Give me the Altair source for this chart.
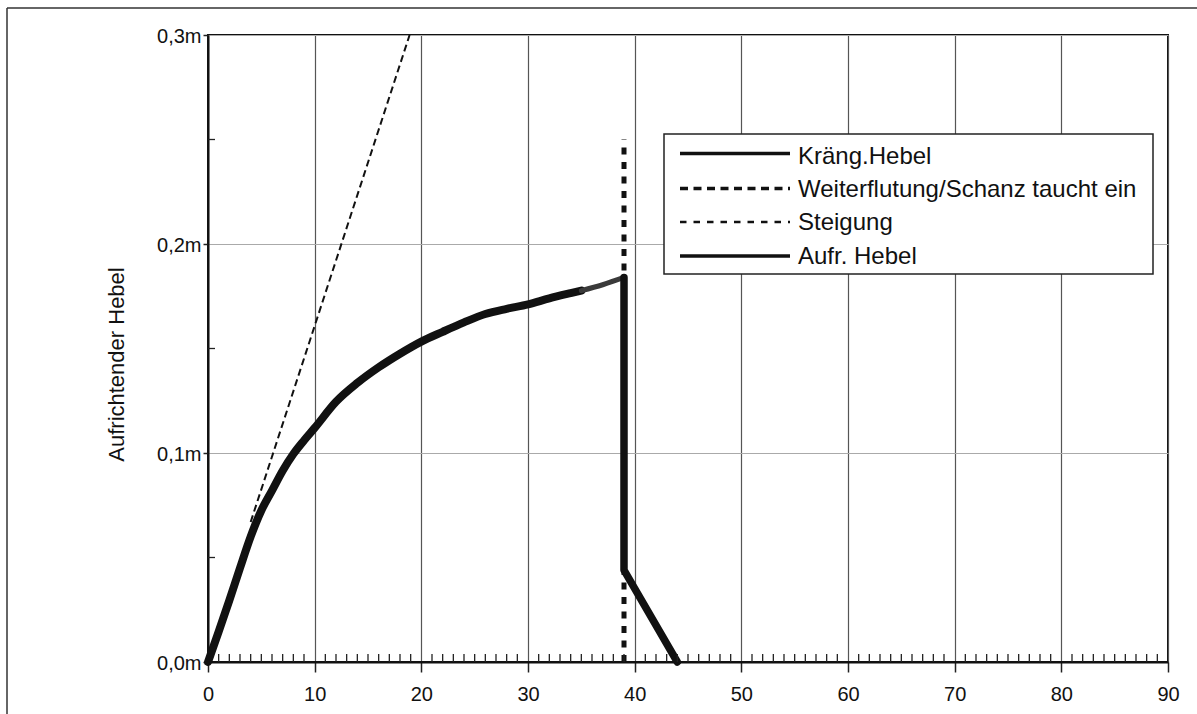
import altair as alt
import pandas as pd

# Righting lever curve: heel angle (deg) vs. lever (m)
angle = [0, 1, 2, 3, 4, 5, 6, 7, 8, 9, 10, 12, 14, 16, 18, 20, 22, 24, 26, 28,
         30, 32, 34, 35, 37, 39, 39, 44]
lever = [0.0, 0.0145, 0.0295, 0.045, 0.060, 0.0725, 0.082, 0.0915, 0.0995, 0.106,
         0.112, 0.1245, 0.1335, 0.141, 0.1475, 0.1533, 0.158, 0.1625, 0.1665, 0.169,
         0.1711, 0.174, 0.1765, 0.1777, 0.1805, 0.184, 0.044, 0.0]

# Initial slope line
steig_x = [4.0, 18.9]
steig_y = [0.067, 0.300]

# Downflooding / bulwark immersion angle
flood_x = [39, 39]
flood_y = [0.0, 0.25]

# Heeling lever
kraeng_x = [0, 90]
kraeng_y = [0.0, 0.0]

legend_names = ["Kräng.Hebel", "Weiterflutung/Schanz taucht ein", "Steigung", "Aufr. Hebel"]

x_major = list(range(0, 91, 10))
x_minor = [v for v in range(1, 90) if v % 10]
y_major = [0.0, 0.1, 0.2, 0.3]
y_minor = [0.05, 0.15, 0.25]

FONT = "Liberation Sans"
INK = "#111111"
W, H = 960, 627

xs = alt.Scale(domain=[0, 90], nice=False, zero=False)
ys = alt.Scale(domain=[0, 0.3], nice=False)

x_axis = alt.Axis(values=x_major, title=None, grid=True, gridColor="#555555", gridWidth=1.2,
                  domainColor=INK, domainWidth=2, tickColor="#222222", tickWidth=1.5,
                  tickSize=10, labelFontSize=20, labelPadding=12, labelColor=INK,
                  labelFont=FONT, labelFlush=False, format="d")
y_axis = alt.Axis(values=y_major, title="Aufrichtender Hebel", grid=True, gridColor="#aaaaaa",
                  gridWidth=1, domainColor=INK, domainWidth=2, tickColor="#222222",
                  tickWidth=1.5, tickSize=5, labelFontSize=20, labelPadding=2,
                  labelColor=INK, labelFont=FONT, labelFlush=False, labelOffset=1,
                  labelExpr="replace(format(datum.value, '.1f'), '.', ',') + 'm'",
                  titleFont=FONT, titleFontSize=22, titleFontWeight="normal",
                  titleColor=INK, titleAngle=-90, titleX=-92, titleY=329,
                  titleAlign="center", titleBaseline="middle")

curve = pd.DataFrame({"x": angle, "y": lever, "i": range(len(angle))})
i35 = angle.index(35)
i39 = angle.index(39)

# axes + grid carrier (Kräng.Hebel along the zero line)
kraeng = alt.Chart(pd.DataFrame({"x": kraeng_x, "y": kraeng_y})).mark_line(
    color=INK, strokeWidth=2
).encode(x=alt.X("x:Q", scale=xs, axis=x_axis), y=alt.Y("y:Q", scale=ys, axis=y_axis))

steig = alt.Chart(pd.DataFrame({"x": steig_x, "y": steig_y})).mark_line(
    color=INK, strokeWidth=2, strokeDash=[7, 4]
).encode(x=alt.X("x:Q", scale=xs), y=alt.Y("y:Q", scale=ys))

flood = alt.Chart(pd.DataFrame({"x": flood_x, "y": flood_y})).mark_line(
    color=INK, strokeWidth=5, strokeDash=[7, 7.5]
).encode(x=alt.X("x:Q", scale=xs), y=alt.Y("y:Q", scale=ys))


def piece(df, color, width, interp="linear"):
    return alt.Chart(df).mark_line(color=color, strokeWidth=width, strokeJoin="round",
                                   strokeCap="round", interpolate=interp).encode(
        x=alt.X("x:Q", scale=xs), y=alt.Y("y:Q", scale=ys), order="i:Q")


aufr_a = piece(curve.iloc[: i35 + 1], INK, 8, "monotone")
aufr_b = piece(curve.iloc[i35: i39 + 1], "#3a3a3a", 5, "monotone")
aufr_c = piece(curve.iloc[i39:], INK, 7.5)

minor_x = alt.Chart(pd.DataFrame({"x": x_minor})).mark_rule(color="#222222", strokeWidth=1.3).encode(
    x=alt.X("x:Q", scale=xs), y=alt.value(H), y2=alt.value(H - 8))
minor_y = alt.Chart(pd.DataFrame({"y": y_minor})).mark_rule(color="#222222", strokeWidth=1.3).encode(
    y=alt.Y("y:Q", scale=ys), x=alt.value(0), x2=alt.value(7))

# outer frame
frame_left = alt.Chart(pd.DataFrame({"k": [0]})).mark_rule(color="#333333", strokeWidth=1.5).encode(
    x=alt.value(-201), y=alt.value(-27), y2=alt.value(700))
frame_top = alt.Chart(pd.DataFrame({"k": [0]})).mark_rule(color="#333333", strokeWidth=1.5).encode(
    x=alt.value(-201), x2=alt.value(1000), y=alt.value(-27))

# legend box
legend_box = alt.Chart(pd.DataFrame({"k": [0]})).mark_rect(
    fill="white", stroke="#222222", strokeWidth=1.5
).encode(x=alt.value(456), x2=alt.value(945), y=alt.value(99), y2=alt.value(239))

sample_style = [
    dict(strokeWidth=3.5),
    dict(strokeWidth=3.5, strokeDash=[8, 5.5]),
    dict(strokeWidth=2.5, strokeDash=[6.5, 7]),
    dict(strokeWidth=3.5),
]
sample_y = [118.5, 153.5, 187, 221]
label_y = [128.5, 161.5, 195, 229]

legend_layers = []
for k, name in enumerate(legend_names):
    row = pd.DataFrame({"name": [name]})
    legend_layers.append(
        alt.Chart(row).mark_rule(color=INK, **sample_style[k]).encode(
            x=alt.value(472), x2=alt.value(582), y=alt.value(sample_y[k])))
    legend_layers.append(
        alt.Chart(row).mark_text(align="left", baseline="alphabetic", fontSize=24,
                                 font=FONT, color=INK).encode(
            x=alt.value(590), y=alt.value(label_y[k]), text="name:N"))

chart = alt.layer(
    kraeng, steig, flood, aufr_a, aufr_b, aufr_c, minor_x, minor_y,
    frame_left, frame_top, legend_box, *legend_layers
).properties(
    width=W, height=H,
    autosize=alt.AutoSizeParams(type="none"),
    padding={"left": 208, "top": 35, "right": 29, "bottom": 52},
).configure(font=FONT).configure_view(stroke=INK, strokeWidth=2)

chart.save("out.html", embed_options={"renderer": "svg", "actions": False})
